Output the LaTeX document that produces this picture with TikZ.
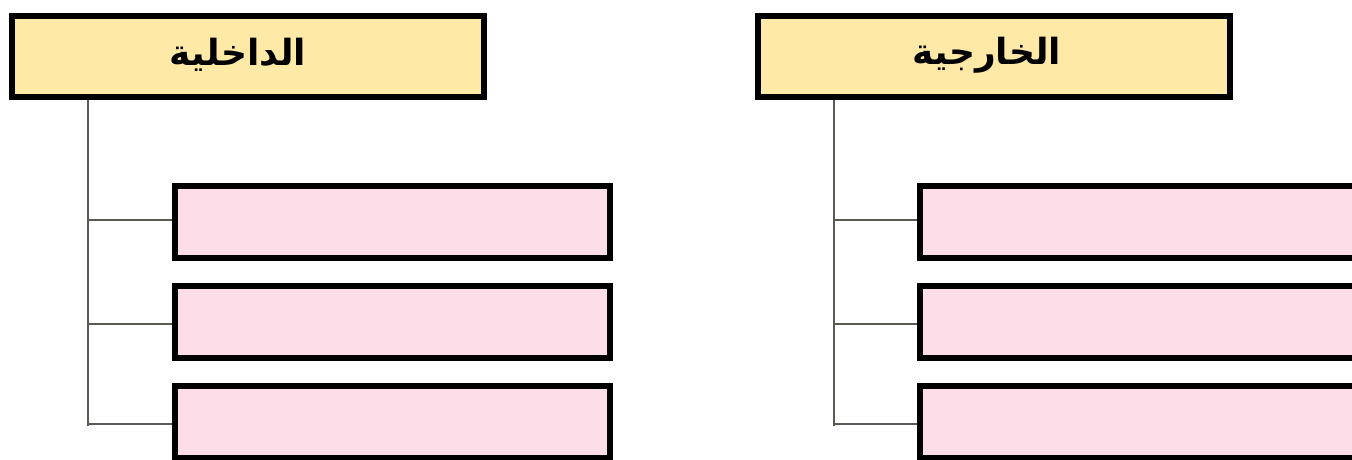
\documentclass[tikz,border=0pt]{standalone}
\usepackage{fontspec}
\newfontfamily\arabicfont[Script=Arabic]{DejaVu Sans}
\TeXXeTstate=1
\definecolor{hdrfill}{HTML}{FFE9A6}
\definecolor{boxfill}{HTML}{FDDDE7}
\definecolor{linkgray}{HTML}{5A5A55}
\tikzset{
  hdrbox/.style={draw=black, line width=5.5pt, fill=hdrfill, minimum width=472pt, minimum height=81pt, inner sep=0pt, font=\arabicfont\bfseries\fontsize{36}{42}\selectfont},
  hdrtext/.style={inner sep=0pt, font=\arabicfont\bfseries\fontsize{36}{42}\selectfont},
  pinkbox/.style={draw=black, line width=5.5pt, fill=boxfill, minimum width=435pt, minimum height=72pt, inner sep=0pt},
  link/.style={draw=linkgray, line width=1.6pt}
}
\begin{document}
\begin{tikzpicture}[x=1pt,y=-1pt]
\useasboundingbox (0,0) rectangle (1352,459);
\clip (0,0) rectangle (1352,459);
\fill[white] (0,0) rectangle (1352,459);
% left group
\node[hdrbox] (hL) at (248,56.5) {};
\node[hdrtext] (tL) at (238,55) {\beginR الداخلية\endR};
\node[pinkbox] (l1) at (392.5,222) {};
\node[pinkbox] (l2) at (392.5,322) {};
\node[pinkbox] (l3) at (392.5,422) {};
\coordinate (lt) at (88,100);
\coordinate (lb) at (88,426);
\coordinate (lj1) at (88,220);
\coordinate (lj2) at (88,324);
\coordinate (lj3) at (88,424);
\draw[link] (lt) -- (lb);
\draw[link] (lj1) -- (lj1 -| l1.west);
\draw[link] (lj2) -- (lj2 -| l2.west);
\draw[link] (lj3) -- (lj3 -| l3.west);
% right group
\node[hdrbox] (hR) at (994,56.5) {};
\node[hdrtext] (tR) at (987,55) {\beginR الخارجية\endR};
\node[pinkbox] (r1) at (1137.5,222) {};
\node[pinkbox] (r2) at (1137.5,322) {};
\node[pinkbox] (r3) at (1137.5,422) {};
\coordinate (rt) at (834,100);
\coordinate (rb) at (834,426);
\coordinate (rj1) at (834,220);
\coordinate (rj2) at (834,324);
\coordinate (rj3) at (834,424);
\draw[link] (rt) -- (rb);
\draw[link] (rj1) -- (rj1 -| r1.west);
\draw[link] (rj2) -- (rj2 -| r2.west);
\draw[link] (rj3) -- (rj3 -| r3.west);
\end{tikzpicture}
\end{document}
